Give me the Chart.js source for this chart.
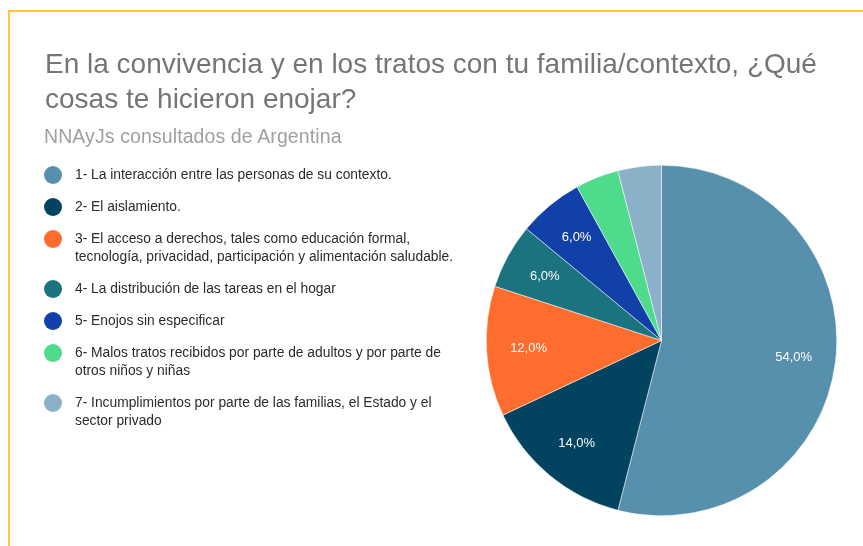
<!DOCTYPE html>
<html>
<head>
<meta charset="utf-8">
<script src="https://cdn.jsdelivr.net/npm/chart.js@4"></script>
<style>
  body { margin: 0; background: #fff; font-family: "Liberation Sans", Arial, sans-serif; }
  #wrap { position: relative; width: 863px; height: 546px; overflow: hidden; }
  #frame { position: absolute; left: 8px; top: 10px; width: 900px; height: 600px;
           border-top: 2px solid #ffc63c; border-left: 2px solid #ffc63c; }
  #title { position: absolute; left: 45px; top: 46px; font-size: 28px; line-height: 35px; color: #757575; }
  #subtitle { position: absolute; left: 44px; top: 126px; font-size: 19.5px; line-height: 20px; letter-spacing: 0.1px; color: #a0a0a0; }
  #legend { position: absolute; left: 44px; top: 166px; }
  .item { display: flex; margin-bottom: 14px; }
  .dot { width: 18px; height: 18px; border-radius: 50%; margin-top: 0; margin-right: 13px; flex: none; }
  .txt { font-size: 13.8px; line-height: 18px; color: #2b2b2b; }
  canvas { position: absolute; left: 0; top: 0; }
</style>
</head>
<body>
<div id="wrap">
  <div id="frame"></div>
  <canvas id="myChart" width="863" height="546"></canvas>
  <div id="title">En la convivencia y en los tratos con tu familia/contexto, ¿Qué<br>cosas te hicieron enojar?</div>
  <div id="subtitle">NNAyJs consultados de Argentina</div>
  <div id="legend"></div>
</div>
<script>
var categories = [
  ["1- La interacción entre las personas de su contexto."],
  ["2- El aislamiento."],
  ["3- El acceso a derechos, tales como educación formal,", "tecnología, privacidad, participación y alimentación saludable."],
  ["4- La distribución de las tareas en el hogar"],
  ["5- Enojos sin especificar"],
  ["6- Malos tratos recibidos por parte de adultos y por parte de", "otros niños y niñas"],
  ["7- Incumplimientos por parte de las familias, el Estado y el", "sector privado"]
];
var values = [54, 14, 12, 6, 6, 4, 4];
var colors = ['#5790ad', '#02435f', '#ff6d2e', '#1c7380', '#1141a8', '#4edb8b', '#8ab1c7'];

// percent labels inside the slices
var sliceLabels = {
  id: 'sliceLabels',
  afterDatasetsDraw: function(chart) {
    var ctx = chart.ctx;
    var total = values.reduce(function(a, b){ return a + b; }, 0);
    chart.getDatasetMeta(0).data.forEach(function(arc, i) {
      var pct = values[i] / total * 100;
      if (pct < 5) return;
      var mid = (arc.startAngle + arc.endAngle) / 2;
      var r = arc.outerRadius * 0.76;
      ctx.save();
      ctx.fillStyle = '#ffffff';
      ctx.font = '13px "Liberation Sans", Arial, sans-serif';
      ctx.textAlign = 'center';
      ctx.textBaseline = 'middle';
      ctx.fillText(pct.toFixed(1).replace('.', ',') + '%', arc.x + Math.cos(mid) * r, arc.y + Math.sin(mid) * r);
      ctx.restore();
    });
  }
};

var ctx = document.getElementById('myChart').getContext('2d');
var chart = new Chart(ctx, {
  type: 'pie',
  data: {
    labels: categories,
    datasets: [{
      data: values,
      backgroundColor: colors,
      borderColor: '#ffffff',
      borderWidth: 0.5
    }]
  },
  options: {
    responsive: false,
    animation: false,
    layout: { padding: { left: 485, right: 25, top: 165, bottom: 30 } },
    plugins: {
      legend: { display: false },
      tooltip: { enabled: false }
    }
  },
  plugins: [sliceLabels]
});

// legend as html, so the long labels wrap like the original
var legend = document.getElementById('legend');
categories.forEach(function(lines, i) {
  var item = document.createElement('div');
  item.className = 'item';
  var dot = document.createElement('div');
  dot.className = 'dot';
  dot.style.background = colors[i];
  var txt = document.createElement('div');
  txt.className = 'txt';
  txt.innerHTML = lines.join('<br>');
  item.appendChild(dot);
  item.appendChild(txt);
  legend.appendChild(item);
});
</script>
</body>
</html>
